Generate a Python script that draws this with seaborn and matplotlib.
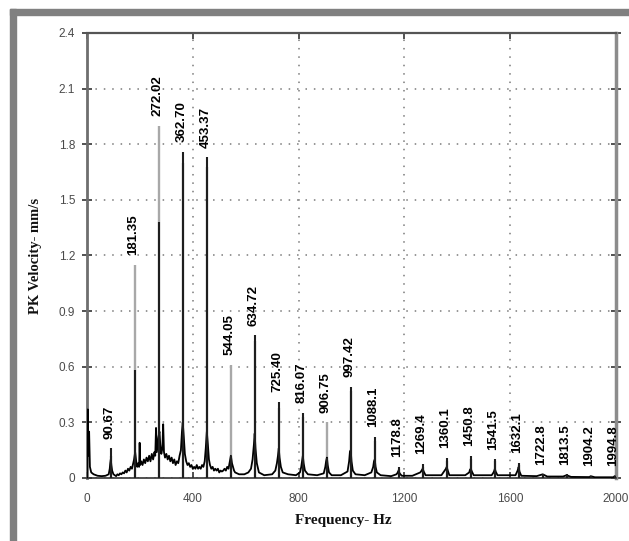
import numpy as np
import pandas as pd
import matplotlib
matplotlib.use("Agg")
import matplotlib.pyplot as plt
from matplotlib.patches import Rectangle
import seaborn as sns

# Harmonic peaks of the running frequency (Hz), as printed above each peak
peak_labels = ["90.67", "181.35", "272.02", "362.70", "453.37", "544.05", "634.72",
               "725.40", "816.07", "906.75", "997.42", "1088.1", "1178.8", "1269.4",
               "1360.1", "1450.8", "1541.5", "1632.1", "1722.8", "1813.5", "1904.2",
               "1994.8"]
peak_freq = [float(s) for s in peak_labels]

# Peak velocity of the dark trace at each harmonic (mm/s)
peak_dark = [0.16, 0.58, 1.38, 1.76, 1.73, 0.12, 0.77, 0.41, 0.35, 0.11, 0.49, 0.22,
             0.06, 0.075, 0.11, 0.12, 0.10, 0.08, 0.02, 0.02, 0.01, 0.01]
# Peak velocity of the light trace at each harmonic (mm/s)
peak_light = [0.12, 1.15, 1.90, 1.70, 1.68, 0.61, 0.74, 0.38, 0.33, 0.30, 0.47, 0.20,
              0.05, 0.06, 0.09, 0.10, 0.09, 0.07, 0.015, 0.015, 0.008, 0.008]

# Broadband floor of the dark trace between the harmonics
floor_freq = [0, 3, 5, 8, 11, 16, 25, 40, 55, 70, 82, 86, 88, 90, 92, 95, 100,
              105, 110, 115, 120, 125, 130, 135, 140, 145, 150, 155, 160, 165, 170,
              175, 178, 182, 186, 190, 194, 197, 199, 201, 205, 210, 215, 220, 225,
              230, 235, 240, 245, 250, 255, 258, 261, 264, 267, 270, 274, 277, 281,
              285, 288, 291, 295, 300, 305, 310, 315, 320, 325, 330, 335, 340, 345,
              350, 355, 359, 362, 366, 370, 375, 380, 385, 390, 395, 400, 405, 410,
              415, 420, 425, 430, 435, 440, 445, 449, 453, 457, 461, 465, 470, 475,
              480, 485, 490, 495, 500, 505, 510, 515, 520, 525, 530, 535, 540, 544,
              548, 552, 556, 560, 575, 595, 610, 620, 626, 631, 634, 637, 642, 650,
              670, 700, 712, 718, 722, 725, 728, 733, 740, 760, 790, 805, 810, 813,
              816, 819, 824, 835, 870, 895, 901, 904, 907, 910, 915, 925, 960, 985,
              991, 994, 997, 1000, 1005, 1015, 1050, 1075, 1082, 1085, 1088, 1091,
              1096, 1110, 1150, 1170, 1175, 1178, 1182, 1190, 1230, 1260, 1265, 1269,
              1273, 1280, 1340, 1352, 1357, 1360, 1364, 1370, 1430, 1445, 1448, 1451,
              1455, 1462, 1530, 1537, 1540, 1542, 1545, 1552, 1620, 1628, 1630, 1632,
              1635, 1642, 1700, 1723, 1740, 1800, 1813, 1830, 1900, 1904, 1920, 1990,
              1995, 2000]
floor_amp = [0.0, 0.37, 0.12, 0.25, 0.06, 0.03, 0.02, 0.012, 0.01, 0.012, 0.02, 0.05,
             0.08, 0.10, 0.07, 0.04, 0.02, 0.015, 0.01, 0.02, 0.015, 0.025, 0.02, 0.03,
             0.025, 0.04, 0.03, 0.05, 0.04, 0.06, 0.05, 0.08, 0.10, 0.14, 0.09, 0.06,
             0.08, 0.06, 0.19, 0.07, 0.09, 0.07, 0.10, 0.08, 0.11, 0.09, 0.12, 0.09,
             0.13, 0.10, 0.14, 0.12, 0.27, 0.14, 0.18, 0.22, 0.25, 0.18, 0.13, 0.16,
             0.29, 0.14, 0.11, 0.13, 0.10, 0.12, 0.09, 0.11, 0.08, 0.10, 0.07, 0.09,
             0.08, 0.12, 0.15, 0.25, 0.30, 0.22, 0.13, 0.09, 0.07, 0.08, 0.06, 0.07,
             0.05, 0.06, 0.05, 0.07, 0.05, 0.06, 0.05, 0.07, 0.06, 0.09, 0.16, 0.25,
             0.18, 0.10, 0.07, 0.05, 0.06, 0.04, 0.05, 0.04, 0.05, 0.03, 0.04, 0.035,
             0.04, 0.05, 0.04, 0.06, 0.05, 0.09, 0.12, 0.08, 0.06, 0.04, 0.03, 0.02,
             0.02, 0.03, 0.05, 0.10, 0.18, 0.24, 0.16, 0.08, 0.03, 0.015, 0.02, 0.04,
             0.08, 0.12, 0.16, 0.11, 0.06, 0.03, 0.02, 0.015, 0.03, 0.06, 0.09, 0.12,
             0.08, 0.04, 0.02, 0.015, 0.025, 0.06, 0.09, 0.11, 0.07, 0.03, 0.015,
             0.015, 0.035, 0.09, 0.14, 0.15, 0.09, 0.04, 0.02, 0.015, 0.03, 0.06, 0.09,
             0.10, 0.06, 0.03, 0.015, 0.01, 0.02, 0.03, 0.04, 0.025, 0.012, 0.012,
             0.03, 0.04, 0.05, 0.035, 0.015, 0.015, 0.04, 0.05, 0.06, 0.04, 0.015,
             0.015, 0.03, 0.045, 0.05, 0.035, 0.015, 0.015, 0.03, 0.04, 0.05, 0.035,
             0.015, 0.015, 0.04, 0.05, 0.06, 0.035, 0.012, 0.01, 0.02, 0.008, 0.008,
             0.015, 0.006, 0.005, 0.01, 0.004, 0.004, 0.01, 0.004]

y_ticks = [0, 0.3, 0.6, 0.9, 1.2, 1.5, 1.8, 2.1, 2.4]
x_ticks = [0, 400, 800, 1200, 1600, 2000]

sns.set_theme(style="white")
plt.rcParams["font.family"] = ["Liberation Sans", "DejaVu Sans"]

W, H = 629, 541
fig = plt.figure(figsize=(W / 100, H / 100), dpi=100)
fig.patch.set_facecolor("white")

# grey frame along the top and left edges of the figure
fig.patches.append(Rectangle((10 / W, 0), 6 / W, (H - 9) / H,
                             transform=fig.transFigure, color="#808080", zorder=0))
fig.patches.append(Rectangle((10 / W, 1 - 15 / H), (W - 10) / W, 6 / H,
                             transform=fig.transFigure, color="#808080", zorder=0))

ax = fig.add_axes([87 / W, 1 - 478 / H, (616 - 87) / W, (478 - 33) / H])

ax.grid(True, linestyle=(0, (1, 4.5)), color="#7a7a7a", linewidth=1.1)
ax.set_axisbelow(True)

# light trace peaks, then the dark trace (floor + peaks) on top
ax.vlines(peak_freq, 0, peak_light, color="#a8a8a8", linewidth=1.7, zorder=2)
floor = pd.DataFrame({"freq": floor_freq, "amp": floor_amp})
sns.lineplot(data=floor, x="freq", y="amp", color="black", linewidth=1.3,
             ax=ax, zorder=3, estimator=None, sort=False)
ax.vlines(peak_freq, 0, peak_dark, color="#1e1e1e", linewidth=1.5, zorder=3)

for lab, f, d, l in zip(peak_labels, peak_freq, peak_dark, peak_light):
    top = max(d, l)
    ax.annotate(lab, xy=(f, top), xytext=(-1, 7), textcoords="offset points",
                rotation=90, ha="center", va="bottom", fontsize=9.5,
                fontweight="bold", color="black", zorder=4)

ax.set_xlim(0, 2000)
ax.set_ylim(0, 2.4)
ax.set_xticks(x_ticks)
ax.set_xticklabels([str(v) for v in x_ticks])
ax.set_yticks(y_ticks)
ax.set_yticklabels(["0" if v == 0 else f"{v:.1f}" for v in y_ticks])

ax.tick_params(axis="y", left=True, right=True, direction="inout", length=7,
               width=1.2, color="#333333", labelsize=8.5, labelcolor="#4a4a4a", pad=5)
ax.tick_params(axis="x", bottom=True, top=True, direction="in", length=4,
               width=1.2, color="#333333", labelsize=8.5, labelcolor="#4a4a4a", pad=11)

ax.spines["left"].set_color("#6e6e6e")
ax.spines["left"].set_linewidth(2.0)
ax.spines["right"].set_color("#8c8c8c")
ax.spines["right"].set_linewidth(2.5)
ax.spines["top"].set_color("#555555")
ax.spines["top"].set_linewidth(1.6)
ax.spines["bottom"].set_color("#333333")
ax.spines["bottom"].set_linewidth(1.2)

ax.set_xlabel("Frequency- Hz", fontsize=11, fontweight="bold",
              family=["Liberation Serif", "DejaVu Serif"], color="#111111")
ax.xaxis.set_label_coords((343 - 87) / 529, -(514 - 478) / 445)
ax.set_ylabel("PK Velocity- mm/s", fontsize=10.5, fontweight="bold",
              family=["Liberation Serif", "DejaVu Serif"], color="#111111")
ax.yaxis.set_label_coords((42 - 87) / 529, 0.5)

fig.savefig("out.png", dpi=100)
